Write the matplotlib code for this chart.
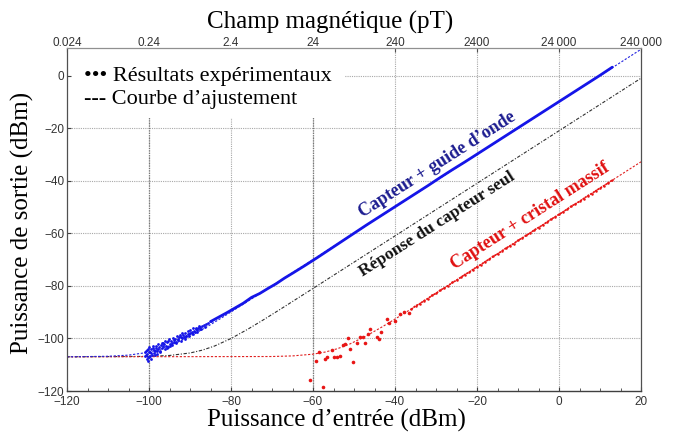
import matplotlib
matplotlib.use("Agg")
import matplotlib.pyplot as plt
from matplotlib.patches import Rectangle

# ---------------- data ----------------
x_ticks = [-120, -100, -80, -60, -40, -20, 0, 20]
y_ticks = [-120, -100, -80, -60, -40, -20, 0]
top_tick_labels = ["0.024", "0.24", "2.4", "24", "240", "2400", "24\u2009000", "240\u2009000"]
threshold_inputs = [-100, -60]

# blue experimental points (Capteur + guide d'onde) - noisy low end
blue_noisy_x = [-101.0, -100.8, -100.6, -100.4, -100.2, -100.0, -99.8, -99.5, -99.3, -99.0,
                -98.8, -98.5, -98.2, -98.0, -97.7, -97.4, -97.1, -96.8, -96.5, -96.2,
                -95.9, -95.6, -95.3, -95.0, -94.6, -94.3, -94.0, -93.6, -93.3, -93.0,
                -92.6, -92.3, -92.0, -91.6, -91.3, -91.0, -90.6, -90.3, -90.0, -89.6,
                -89.3, -89.0, -88.6, -88.3, -88.0, -87.6, -87.3, -87.0, -86.6, -86.3,
                -86.0, -85.5, -85.0,
                -100.9, -100.7, -100.5, -100.3, -100.1, -99.9, -99.7, -99.4, -99.1, -98.9,
                -98.6, -98.3, -98.1, -97.8, -97.5, -97.2, -96.9, -96.6, -96.3, -96.0,
                -95.7, -95.4, -95.1, -94.8, -94.5, -94.2, -93.9, -93.5, -93.2, -92.9,
                -92.5, -92.2, -91.9, -91.5, -91.2, -90.9, -90.5, -90.2, -89.9, -89.5,
                -89.2, -88.9, -88.5, -88.2, -87.9, -87.5, -100.2, -99.6]
blue_noisy_y = [-106.5, -104.8, -107.8, -105.9, -103.9, -106.9, -105.2, -104.1, -106.3, -103.5,
                -105.4, -104.6, -102.8, -106.0, -103.9, -104.9, -102.4, -103.6, -101.9, -104.2,
                -102.8, -101.5, -103.3, -102.1, -100.9, -102.6, -101.4, -100.2, -101.8, -100.6,
                -99.5, -101.0, -99.9, -98.8, -100.1, -98.9, -98.2, -99.2, -97.9, -97.4,
                -98.4, -97.1, -96.5, -97.4, -96.2, -95.7, -96.4, -95.3, -94.9, -95.5,
                -94.5, -94.0, -93.4,
                -105.3, -106.2, -104.4, -107.1, -105.0, -103.4, -106.6, -105.6, -102.9, -104.3,
                -106.2, -103.5, -104.7, -102.3, -103.1, -105.1, -101.8, -103.0, -102.2, -100.9,
                -103.6, -101.0, -100.4, -102.9, -101.7, -99.8, -100.7, -101.2, -99.1, -100.2,
                -98.6, -99.4, -98.0, -99.6, -97.8, -99.0, -97.3, -98.5, -96.8, -98.0,
                -96.2, -97.6, -95.9, -96.8, -95.3, -96.3, -108.7, -108.0]
# blue experimental points - dense, smooth part
blue_x = [-85, -83, -81, -79, -77, -75, -73, -71, -69, -67, -65, -62, -59, -56, -53, -50,
          -47, -44, -41, -38, -35, -32, -29, -26, -23, -20, -17, -14, -11, -8, -5, -2,
          1, 4, 7, 10, 13]
blue_y = [-93.6, -91.9, -90.2, -88.4, -86.6, -84.4, -82.9, -81.0, -79.2, -77.1, -75.2, -72.3,
          -69.3, -66.2, -63.1, -60.0, -56.9, -53.9, -50.9, -47.9, -44.9, -41.9, -38.8, -35.8,
          -32.9, -29.9, -26.9, -23.9, -20.9, -17.9, -14.9, -11.9, -8.9, -5.9, -2.9, 0.1, 3.2]

# red experimental points (Capteur + cristal massif) - noisy low end
red_noisy_x = [-60.7, -57.5, -59.3, -58.5, -57.1, -56.7, -55.4, -54.9, -54.1, -53.4,
               -52.8, -52.2, -51.5, -51.0, -50.2, -49.3, -48.5, -47.7, -47.3, -46.7,
               -46.1, -44.5, -43.9, -43.3, -42.0, -41.4, -40.0, -38.9, -37.8, -36.7]
red_noisy_y = [-116.0, -118.5, -108.6, -105.0, -107.8, -106.9, -104.4, -107.2, -106.9, -106.7,
               -102.5, -102.2, -99.9, -104.1, -109.1, -101.6, -99.3, -99.5, -101.8, -98.3,
               -96.4, -99.5, -100.3, -97.4, -92.7, -94.2, -93.2, -90.7, -89.8, -90.4]
# red experimental points - dense part
red_x = [-36, -35, -34, -33, -32, -31, -30, -29, -28, -27, -26, -25, -24, -23, -22, -21,
         -20, -19, -18, -17, -16, -15, -14, -13, -12, -11, -10, -9, -8, -7, -6, -5, -4,
         -3, -2, -1, 0, 1, 2, 3, 4, 5, 6, 7, 8, 9, 10, 11, 12, 13]
red_y = [-88.9, -87.6, -86.9, -85.7, -84.9, -83.6, -82.9, -81.7, -80.8, -79.9, -78.7, -77.9,
         -76.8, -75.7, -74.9, -73.8, -72.7, -71.9, -70.8, -69.8, -68.7, -67.9, -66.8, -65.7,
         -64.8, -63.9, -62.7, -61.8, -60.8, -59.9, -58.7, -57.8, -56.9, -55.8, -54.7, -53.8,
         -52.8, -51.9, -50.8, -49.7, -48.8, -47.9, -46.8, -45.7, -44.9, -43.8, -42.8, -41.9,
         -40.8, -39.8]

# fitted curves
blue_fit_x = [-120, -110, -105, -100, -97, -94, -90, -86, -82, -78, -70, 20]
blue_fit_y = [-107.0, -106.79, -106.36, -105.24, -104.0, -102.2, -99.2, -95.7, -91.9, -87.95, -80.0, 10.0]
black_fit_x = [-120, -100, -95, -90, -87, -84, -80, -76, -72, -68, -60, 20]
black_fit_y = [-107.0, -106.83, -106.48, -105.54, -104.46, -102.88, -100.03, -96.58, -92.83, -88.93, -80.99, -1.0]
red_fit_x = [-120, -70, -65, -60, -57, -54, -51, -47, -43, -39, -35, -27, 20]
red_fit_y = [-107.0, -106.88, -106.65, -105.99, -105.17, -103.89, -102.10, -99.04, -95.48, -91.67, -87.75, -79.8, -32.8]

# ---------------- figure ----------------
serif = ["Liberation Serif", "DejaVu Serif"]
sans = ["Liberation Sans", "DejaVu Sans"]

fig = plt.figure(figsize=(6.73, 4.38), dpi=100)
ax = fig.add_axes([67 / 673, 47 / 438, 574 / 673, 343 / 438])
ax.set_xlim(-120, 20)
ax.set_ylim(-120, 10.5)

# grid
for xv in x_ticks[1:-1]:
    ax.axvline(xv, color="#a8a8a8", lw=0.8, ls=(0, (1, 1)), zorder=0)
for yv in y_ticks[1:]:
    ax.axhline(yv, color="#a8a8a8", lw=0.8, ls=(0, (1, 1)), zorder=0)
for xv in threshold_inputs:
    ax.axvline(xv, color="#787878", lw=0.9, ls=(0, (1, 1)), zorder=0.5)

# fits
ax.plot(black_fit_x, black_fit_y, color="#303030", lw=0.8, ls=(0, (3, 1.5, 1, 1.5)), zorder=2)
ax.plot(red_fit_x, red_fit_y, color="#e02020", lw=0.8, ls=(0, (2, 1.5)), zorder=2)
ax.plot(blue_fit_x, blue_fit_y, color="#2020e0", lw=0.8, ls=(0, (2, 1.5)), zorder=2)

# experimental data
ax.plot(blue_x, blue_y, color="#1515e8", lw=2.0, zorder=3, solid_capstyle="round")
ax.plot(blue_noisy_x, blue_noisy_y, ls="none", marker="o", ms=2.0, color="#1515e8", mew=0, zorder=3)
ax.plot(red_x, red_y, color="#e81515", lw=1.2, ls=(0, (1.2, 0.6)), zorder=3)
ax.plot(red_x, red_y, ls="none", marker="o", ms=1.8, color="#e81515", mew=0, zorder=3)
ax.plot(red_noisy_x, red_noisy_y, ls="none", marker="o", ms=2.6, color="#e81515", mew=0, zorder=3)

# white legend background
ax.add_patch(Rectangle((0, 0.796), 0.484, 0.204, transform=ax.transAxes,
                       facecolor="white", edgecolor="none", zorder=1))
ax.text(0.03, 0.884, "\u2022\u2022\u2022 Résultats expérimentaux\n--- Courbe d\u2019ajustement",
        transform=ax.transAxes, family=serif, fontsize=16, va="center", ha="left",
        linespacing=1.3, zorder=4)

# annotations
ax.text(-29.8, -33.9, "Capteur + guide d\u2019onde", family=serif, fontweight="bold",
        fontsize=13, color="#1c1c90", rotation=32.6, ha="center", va="center",
        rotation_mode="anchor", zorder=5)
ax.text(-29.6, -56.6, "Réponse du capteur seul", family=serif, fontweight="bold",
        fontsize=12.5, color="#111111", rotation=32.6, ha="center", va="center",
        rotation_mode="anchor", zorder=5)
ax.text(-6.9, -53.3, "Capteur + cristal massif", family=serif, fontweight="bold",
        fontsize=13, color="#e01010", rotation=32.6, ha="center", va="center",
        rotation_mode="anchor", zorder=5)

# spines
for side in ("left", "right"):
    ax.spines[side].set_linestyle((0, (1, 1)))
    ax.spines[side].set_color("#505050")
    ax.spines[side].set_linewidth(0.9)
ax.spines["top"].set_linestyle((0, (1, 1)))
ax.spines["top"].set_color("#909090")
ax.spines["top"].set_linewidth(0.9)
ax.spines["bottom"].set_color("#404040")
ax.spines["bottom"].set_linewidth(1.0)

# ticks
ax.set_xticks(x_ticks)
ax.set_xticks(list(range(-115, 20, 5)), minor=True)
ax.set_yticks(y_ticks)
ax.tick_params(axis="both", which="major", direction="in", length=3, width=0.8,
               colors="#404040", labelsize=8.5, pad=2)
ax.tick_params(axis="x", which="major", pad=3.5)
ax.tick_params(axis="x", which="minor", direction="in", length=2, width=0.6, colors="#404040")
for lab in ax.get_xticklabels() + ax.get_yticklabels():
    lab.set_family(sans)
    lab.set_color("#333333")

top = ax.secondary_xaxis("top")
top.set_xticks(x_ticks)
top.set_xticklabels(top_tick_labels)
top.tick_params(direction="in", length=3, width=0.8, colors="#505050", labelsize=8.5, pad=-1)
top.spines["top"].set_visible(False)
for lab in top.get_xticklabels():
    lab.set_family(sans)
    lab.set_color("#333333")

# axis titles
fig.text(0.49, 0.948, "Champ magnétique (pT)", family=serif, fontsize=18, ha="center", va="center")
fig.text(0.50, 0.040, "Puissance d\u2019entrée (dBm)", family=serif, fontsize=18, ha="center", va="center")
fig.text(0.033, 0.49, "Puissance de sortie (dBm)", family=serif, fontsize=18, ha="center",
         va="center", rotation=90)

fig.savefig("out.png", dpi=100)
